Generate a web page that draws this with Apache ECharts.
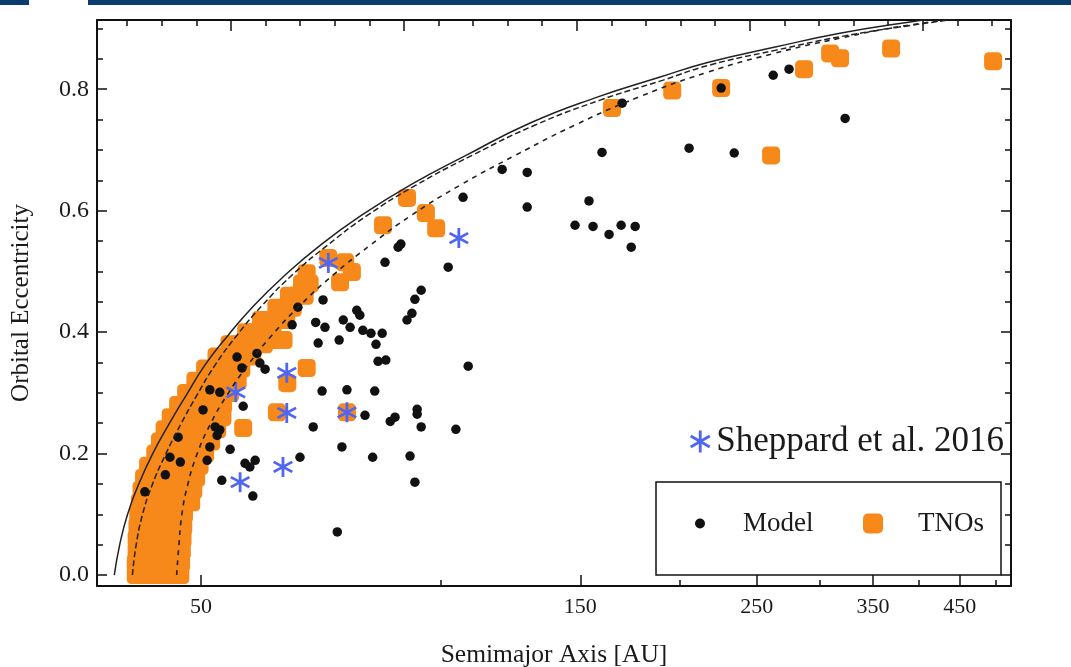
<!DOCTYPE html>
<html>
<head>
<meta charset="utf-8">
<script src="https://cdn.jsdelivr.net/npm/echarts@6.0.0/dist/echarts.min.js"></script>
<style>
  html, body { margin: 0; padding: 0; background: #fff; }
  #chart { width: 1071px; height: 667px; }
</style>
</head>
<body>
<div id="chart"></div>
<script>
// tick values
const xMajor = [50, 150, 250, 350, 450];
const xMinor = [100, 200, 300, 400, 500];
const yMajor = [0, 0.2, 0.4, 0.6, 0.8];
const yMinor = [0.05, 0.1, 0.15, 0.25, 0.3, 0.35, 0.45, 0.5, 0.55, 0.65, 0.7, 0.75, 0.85, 0.9];
// top frame ticks (unlabelled, linear)
const topMajor = [0, 5, 10, 15, 20];
const topMinor = [-3, -2, -1, 1, 2, 3, 4, 6, 7, 8, 9, 11, 12, 13, 14, 16, 17, 18, 19, 21, 22];

// Sheppard et al. 2016 objects [a, e]
const sheppard = [[72.3, 0.514], [105.5, 0.555], [55.3, 0.301], [64.1, 0.333],
  [64.1, 0.267], [76.3, 0.268], [63.4, 0.178], [56.0, 0.153]];

// model particles [a, e]
const model = [
  [205.5, 0.703], [234.2, 0.695], [262.2, 0.823], [274.5, 0.833], [322.9, 0.752], [225.5, 0.802],
  [128.6, 0.663], [119.6, 0.668], [128.6, 0.606], [106.8, 0.622], [159.7, 0.696], [153.8, 0.616],
  [147.7, 0.576], [155.6, 0.574], [163.0, 0.561], [168.8, 0.576], [175.8, 0.574], [173.8, 0.540], [169.3, 0.777],
  [89.2, 0.545], [88.5, 0.540], [85.2, 0.515], [102.3, 0.507], [94.6, 0.469], [92.9, 0.454], [92.1, 0.431], [90.8, 0.420],
  [71.2, 0.453], [78.5, 0.436], [79.2, 0.428], [69.7, 0.416], [71.6, 0.408], [75.5, 0.420], [77.0, 0.408],
  [79.9, 0.403], [81.8, 0.398], [84.5, 0.398], [83.0, 0.380], [70.2, 0.382], [74.6, 0.387], [83.5, 0.352],
  [85.4, 0.354], [108.4, 0.344], [66.2, 0.441], [65.1, 0.412],
  [71.0, 0.303], [76.3, 0.305], [82.7, 0.303], [80.4, 0.263], [86.5, 0.253], [87.7, 0.260], [93.5, 0.273],
  [93.5, 0.265], [94.6, 0.244], [104.6, 0.240], [69.2, 0.244], [75.2, 0.211], [82.2, 0.194], [91.6, 0.196],
  [66.6, 0.194], [92.9, 0.153], [74.2, 0.071],
  [55.5, 0.359], [58.8, 0.365], [56.3, 0.341], [59.3, 0.349], [60.2, 0.339], [51.3, 0.305], [52.8, 0.301],
  [56.5, 0.278], [50.3, 0.272], [52.1, 0.244], [52.8, 0.239], [52.4, 0.230], [51.3, 0.211], [54.4, 0.207],
  [50.9, 0.189], [45.1, 0.165], [45.7, 0.194], [47.1, 0.186], [46.8, 0.227], [56.8, 0.184], [58.5, 0.189],
  [57.6, 0.178], [53.1, 0.156], [58.1, 0.130], [42.5, 0.137]
];

// observed TNOs: dense Kuiper belt band, rows of [e, [a...]]
const tnoRows = [
  [0.00, [41.4, 42.5, 43.6, 44.7, 45.9, 47.1]],
  [0.02, [41.4, 42.5, 43.6, 44.7, 45.9, 47.2]],
  [0.04, [41.5, 42.6, 43.7, 44.8, 46.0, 47.3]],
  [0.06, [41.5, 42.6, 43.7, 44.9, 46.1, 47.4]],
  [0.08, [41.6, 42.7, 43.8, 45.0, 46.2, 47.5]],
  [0.10, [41.7, 42.8, 44.0, 45.1, 46.3, 47.6]],
  [0.12, [41.9, 43.0, 44.1, 45.3, 46.5, 47.8, 48.6]],
  [0.14, [42.1, 43.2, 44.3, 45.5, 46.7, 48.0, 48.9]],
  [0.16, [42.4, 43.5, 44.6, 45.8, 47.0, 48.3, 49.3]],
  [0.18, [42.9, 44.0, 45.1, 46.3, 47.5, 48.8, 49.8]],
  [0.20, [43.8, 44.9, 46.0, 47.2, 48.4, 49.6, 50.6]],
  [0.22, [44.4, 45.5, 46.7, 47.9, 49.1, 50.4, 51.5]],
  [0.24, [45.0, 46.2, 47.4, 48.6, 49.9, 51.2, 52.4]],
  [0.26, [45.8, 47.0, 48.2, 49.5, 50.8, 52.1, 53.2]],
  [0.28, [46.8, 48.0, 49.3, 50.6, 51.9, 53.3]],
  [0.30, [47.9, 49.2, 50.5, 51.8, 53.1, 54.4]],
  [0.32, [49.2, 50.5, 51.8, 53.2, 54.6, 55.6]],
  [0.34, [50.6, 52.0, 53.4, 54.8, 56.2]],
  [0.36, [52.3, 53.7, 55.1, 56.6, 58.0]],
  [0.38, [54.3, 55.8, 57.3, 58.8, 60.0]],
  [0.40, [57.0, 58.5, 60.0, 61.5]],
  [0.42, [59.5, 61.0, 62.5, 64.0]],
  [0.44, [62.2, 63.7, 65.2]],
  [0.46, [64.5, 66.0, 67.5]],
  [0.48, [67.0, 68.5]]
];
// observed TNOs outside the band [a, e]
const tnoOuter = [
  [164.4, 0.769], [195.7, 0.798], [225.5, 0.802], [260.6, 0.691], [286.7, 0.833], [309.2, 0.859],
  [318.2, 0.851], [368.9, 0.867], [495.6, 0.846],
  [90.8, 0.621], [95.9, 0.596], [98.8, 0.571], [84.7, 0.576],
  [72.3, 0.522], [75.9, 0.515], [77.4, 0.499], [74.8, 0.482], [67.9, 0.497],
  [67.9, 0.341], [62.3, 0.268], [64.2, 0.316], [76.3, 0.268], [56.5, 0.242], [61.5, 0.387], [63.5, 0.387]
];

// perihelion curves [a, e]
const curveSolid = [[38.9, 0], [39.5, 0.049], [40.4, 0.099], [41.7, 0.148], [43.4, 0.198], [45.5, 0.247],
  [47.9, 0.296], [50.6, 0.346], [54.1, 0.395], [58.3, 0.444], [63.8, 0.494], [70.6, 0.543], [79.7, 0.593],
  [91.6, 0.642], [107.7, 0.691], [129.5, 0.744], [157.5, 0.787], [189, 0.820], [216.8, 0.844],
  [262.8, 0.869], [318, 0.892], [386, 0.910], [450, 0.922]];
const curveDash = [[41.0, 0], [41.4, 0.046], [42.2, 0.099], [43.4, 0.148], [45.1, 0.198], [47.1, 0.247],
  [49.4, 0.296], [52.1, 0.346], [55.5, 0.395], [59.7, 0.444], [65.1, 0.494], [72.1, 0.543], [81.1, 0.593],
  [93.2, 0.642], [109.6, 0.691], [131.6, 0.741], [158.8, 0.782], [190.6, 0.815], [218.4, 0.840],
  [263.6, 0.864], [320, 0.887], [389.8, 0.905], [484, 0.922]];
const curveDot = [[46.6, 0], [46.9, 0.049], [47.3, 0.099], [48.1, 0.148], [49.4, 0.198], [51.3, 0.247],
  [53.9, 0.296], [57.3, 0.346], [61.4, 0.395], [66.6, 0.444], [73.3, 0.494], [81.6, 0.543], [92.1, 0.593],
  [105.9, 0.642], [124.2, 0.691], [147.7, 0.741], [178.3, 0.788], [216.8, 0.828], [262.8, 0.859],
  [318, 0.884], [386, 0.905], [491, 0.923]];

const tnos = tnoOuter.slice();
tnoRows.forEach(function (row) {
  row[1].forEach(function (a) { tnos.push([a, row[0]]); });
});

const FONT = '"Liberation Serif", "Times New Roman", serif';
const INK = '#111';
const ORANGE = '#f7891a';
const BLUE = '#4f66f2';
const ASTERISK = 'path://M8.7 0L11.3 0L11.3 20L8.7 20Z M0.69 6.126L1.99 3.874L19.31 13.874L18.01 16.126Z M18.01 3.874L19.31 6.126L1.99 16.126L0.69 13.874Z';

const frameLine = { show: true, onZero: false, lineStyle: { color: INK, width: 2 } };
const noLine = { show: false, onZero: false };
function ticks(values, len) {
  return { show: true, inside: true, length: len, customValues: values, lineStyle: { color: INK, width: 1.5 } };
}

const chart = echarts.init(document.getElementById('chart'));
chart.setOption({
  animation: false,
  backgroundColor: '#fff',
  grid: { left: 97, right: 60, top: 20, bottom: 81, outerBoundsMode: 'none' },
  xAxis: [
    {
      type: 'log', min: 37, max: 522, position: 'bottom',
      axisLine: frameLine, axisTick: ticks(xMajor, 11),
      axisLabel: { customValues: xMajor, formatter: function (v) { return String(Math.round(v)); },
        fontFamily: FONT, fontSize: 22, color: '#1a1a1a', margin: 10 },
      splitLine: { show: false },
      name: 'Semimajor Axis [AU]', nameLocation: 'middle', nameGap: 56,
      nameTextStyle: { fontFamily: FONT, fontSize: 25.5, color: '#1a1a1a' }
    },
    {
      type: 'log', min: 37, max: 522, position: 'bottom',
      axisLine: noLine, axisTick: ticks(xMinor, 6), axisLabel: { show: false }, splitLine: { show: false }
    },
    {
      type: 'value', min: -3.87, max: 22.55, position: 'top',
      axisLine: frameLine, axisTick: ticks(topMajor, 11), axisLabel: { show: false }, splitLine: { show: false }
    },
    {
      type: 'value', min: -3.87, max: 22.55, position: 'top',
      axisLine: noLine, axisTick: ticks(topMinor, 6), axisLabel: { show: false }, splitLine: { show: false }
    }
  ],
  yAxis: [
    {
      type: 'value', min: -0.018, max: 0.914, position: 'left',
      axisLine: frameLine, axisTick: ticks(yMajor, 10),
      axisLabel: { customValues: yMajor, formatter: function (v) { return v.toFixed(1); },
        fontFamily: FONT, fontSize: 24, color: '#1a1a1a', margin: 8 },
      splitLine: { show: false },
      name: 'Orbital Eccentricity', nameLocation: 'middle', nameGap: 63,
      nameTextStyle: { fontFamily: FONT, fontSize: 25, color: '#1a1a1a' }
    },
    {
      type: 'value', min: -0.018, max: 0.914, position: 'left',
      axisLine: noLine, axisTick: ticks(yMinor, 6), axisLabel: { show: false }, splitLine: { show: false }
    },
    {
      type: 'value', min: -0.018, max: 0.914, position: 'right',
      axisLine: frameLine, axisTick: ticks(yMajor, 10), axisLabel: { show: false }, splitLine: { show: false }
    },
    {
      type: 'value', min: -0.018, max: 0.914, position: 'right',
      axisLine: noLine, axisTick: ticks(yMinor, 6), axisLabel: { show: false }, splitLine: { show: false }
    }
  ],
  legend: [
    {
      data: [{ name: 'Sheppard et al. 2016', icon: ASTERISK }],
      left: 690, top: 424, padding: 0, itemWidth: 22, itemHeight: 22, selectedMode: false,
      textStyle: { fontFamily: FONT, fontSize: 35, color: '#1a1a1a' }
    },
    {
      data: [{ name: 'Model', icon: 'circle' }],
      left: 695, top: 510, padding: 0, itemWidth: 10, itemHeight: 10, selectedMode: false,
      textStyle: { fontFamily: FONT, fontSize: 27, color: '#1a1a1a', padding: [0, 0, 0, 33] }
    },
    {
      data: [{ name: 'TNOs', icon: 'roundRect' }],
      left: 863, top: 510, padding: 0, itemWidth: 20, itemHeight: 20, selectedMode: false,
      textStyle: { fontFamily: FONT, fontSize: 27, color: '#1a1a1a', padding: [0, 0, 0, 30] }
    }
  ],
  graphic: [
    { type: 'rect', left: 0, top: 0, shape: { width: 29, height: 5 }, style: { fill: '#0b3c6e' } },
    { type: 'rect', left: 88, top: 0, shape: { width: 983, height: 5 }, style: { fill: '#0b3c6e' } },
    { type: 'rect', z: 3, shape: { x: 656, y: 482, width: 345, height: 93 },
      style: { fill: '#fff', stroke: INK, lineWidth: 1.5 } }
  ],
  series: [
    {
      name: 'TNOs', type: 'scatter', data: tnos, symbol: 'roundRect', symbolSize: 18,
      itemStyle: { color: ORANGE, opacity: 1 }, silent: true
    },
    {
      name: 'q solid', type: 'line', data: curveSolid, smooth: true, showSymbol: false, silent: true,
      lineStyle: { color: '#222', width: 1.5 }
    },
    {
      name: 'q dashed', type: 'line', data: curveDash, smooth: true, showSymbol: false, silent: true,
      lineStyle: { color: '#222', width: 1.5, type: [6, 3] }
    },
    {
      name: 'q dotted', type: 'line', data: curveDot, smooth: true, showSymbol: false, silent: true,
      lineStyle: { color: '#222', width: 1.6, type: [5, 5] }
    },
    {
      name: 'Model', type: 'scatter', data: model, symbol: 'circle', symbolSize: 9.5,
      itemStyle: { color: INK, opacity: 1 }, silent: true
    },
    {
      name: 'Sheppard et al. 2016', type: 'scatter', data: sheppard, symbol: ASTERISK, symbolSize: 20,
      itemStyle: { color: BLUE, opacity: 1 }, silent: true
    }
  ]
});
</script>
</body>
</html>
